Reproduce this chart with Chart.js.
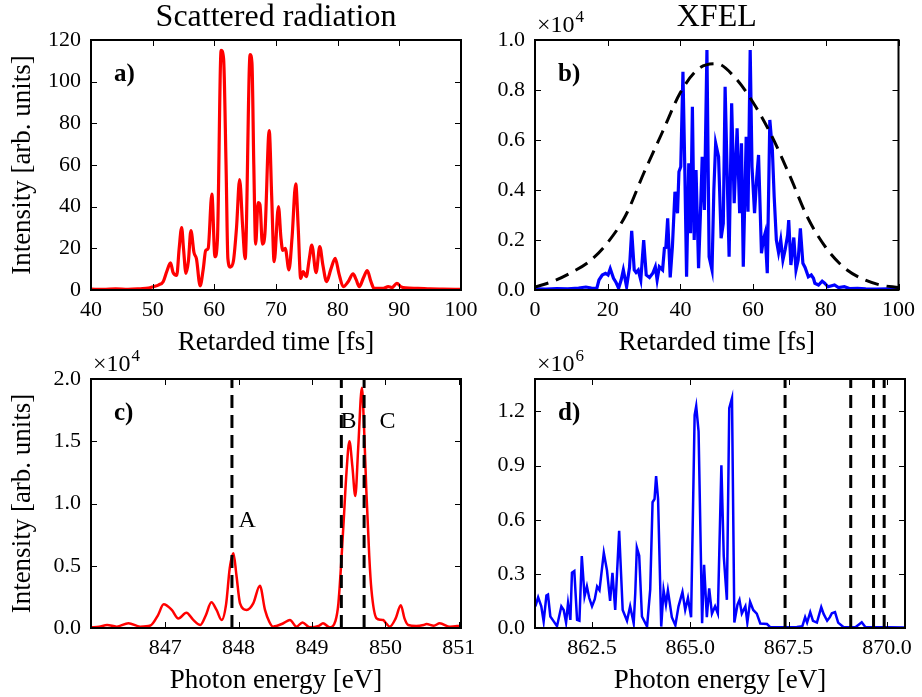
<!DOCTYPE html>
<html>
<head>
<meta charset="utf-8">
<script src="https://cdn.jsdelivr.net/npm/chart.js@4.4.1/dist/chart.umd.min.js"></script>
<style>
  html, body { margin: 0; padding: 0; background: #fff; }
  #wrap { position: relative; width: 922px; height: 697px; overflow: hidden; }
  #wrap canvas { position: absolute; left: 0; top: 0; }
</style>
</head>
<body>
<div id="wrap">
  <canvas id="panelA" width="922" height="697"></canvas>
  <canvas id="panelB" width="922" height="697"></canvas>
  <canvas id="panelC" width="922" height="697"></canvas>
  <canvas id="panelD" width="922" height="697"></canvas>
</div>
<script>
// ---- a) scattered radiation vs retarded time ----
const timeA = [40, 42, 44, 46, 48, 49.3, 50.1, 51, 51.7, 52.3, 52.9, 53.3, 53.9, 54.3, 54.7, 55.0, 55.4, 55.8, 56.2, 56.7,
  57.1, 57.7, 58.2, 58.6, 59.0, 59.6, 60.1, 60.5, 61.1, 61.5, 61.9, 62.2, 62.6, 63.1, 63.6, 64.1, 64.6, 65.0, 65.8, 66.1,
  66.4, 66.7, 67.1, 67.4, 67.8, 68.2, 68.9, 69.3, 69.7, 70.4, 70.8, 71.1, 71.5, 72.1, 72.6, 73.2, 73.6, 74.0, 74.4, 74.9,
  75.4, 75.8, 76.5, 77.1, 77.6, 78.2, 78.9, 79.6, 80.2, 80.9, 81.7, 82.5, 83.0, 83.5, 84.2, 84.8, 85.4, 85.9, 87.4, 88.2,
  88.8, 89.6, 90.3, 91, 93, 95, 97, 100];
const intensityA = [0.4, 0.3, 0.5, 0.3, 0.6, 0.9, 1.6, 2.5, 4, 9, 13, 8.5, 7, 20, 30, 20, 8, 14, 28.5, 18,
  15, 2, 10, 19, 20, 46, 16, 24, 115, 111, 60, 15, 11, 14, 30, 53, 30, 15, 113, 109,
  60, 22, 42, 41, 22, 27, 76.5, 45, 13.6, 40, 25, 19, 20, 9.6, 25, 51, 30, 5.6, 8.8, 6.4,
  15, 21.6, 8.3, 20.8, 12, 4, 10, 15.2, 8, 1.6, 4, 7.7, 5, 1.6, 6, 9.3, 4, 0.8, 0.8, 1.6,
  1.2, 3.2, 1.5, 1.0, 0.8, 0.5, 0.4, 0.3];

// ---- b) XFEL pulse vs retarded time (x 1e4) ----
const timeB = [0, 3, 6, 9, 12, 14, 15.5, 17, 17.6, 18.5, 19.4, 20.1, 20.7, 21.6, 22.3, 23, 23.7, 24.3, 25.2, 26.0,
  26.6, 27.3, 27.8, 28.4, 29.1, 29.9, 30.6, 31.5, 32.4, 33.1, 33.6, 34.2, 35.1, 35.6, 36.0, 36.5, 37.2, 37.8, 38.5, 39.2,
  39.6, 40.1, 40.7, 41.2, 41.7, 42.3, 42.8, 43.3, 43.8, 44.3, 45.0, 45.5, 46.0, 46.6, 47.3, 47.9, 48.7, 49.2, 49.7, 50.5,
  51.2, 51.8, 52.3, 52.9, 53.4, 54.1, 54.8, 55.6, 56.3, 56.8, 57.3, 58.1, 58.6, 59.2, 59.7, 60.4, 61.0, 61.5, 62.3, 62.8,
  63.3, 63.9, 64.6, 65.3, 65.8, 66.4, 67.0, 67.6, 68.2, 68.8, 69.5, 69.8, 70.4, 71.2, 71.8, 72.4, 73.0, 73.7, 74.3, 75.2,
  76.0, 76.6, 77.0, 78.0, 79.0, 79.7, 80.6, 82.4, 83.5, 85.1, 86.5, 88.7, 91, 94, 97, 100];
const intensityB = [0.005, 0.004, 0.006, 0.005, 0.008, 0.012, 0.008, 0.006, 0.04, 0.06, 0.067, 0.06, 0.085, 0.047, 0.03, 0.007, 0.04, 0.08, 0.013, 0.09,
  0.237, 0.08, 0.07, 0.08, 0.04, 0.2, 0.06, 0.05, 0.067, 0.093, 0.04, 0.093, 0.08, 0.167, 0.17, 0.287, 0.05, 0.173, 0.393, 0.307,
  0.473, 0.493, 0.873, 0.493, 0.053, 0.507, 0.227, 0.733, 0.2, 0.48, 0.087, 0.3, 0.533, 0.32, 0.96, 0.133, 0.08, 0.4, 0.587, 0.533,
  0.207, 0.267, 0.813, 0.44, 0.133, 0.747, 0.347, 0.647, 0.307, 0.587, 0.093, 0.613, 0.313, 0.96, 0.493, 0.307, 0.45, 0.54, 0.147, 0.2,
  0.227, 0.067, 0.68, 0.56, 0.373, 0.2, 0.15, 0.2, 0.12, 0.16, 0.22, 0.28, 0.1, 0.21, 0.08, 0.12, 0.247, 0.107, 0.09, 0.053,
  0.06, 0.047, 0.027, 0.02, 0.035, 0.027, 0.013, 0.02, 0.01, 0.013, 0.006, 0.007, 0.005, 0.004, 0.005, 0.004];
const envelopeT = [0, 5, 10, 15, 20, 25, 30, 35, 40, 45, 50, 55, 60, 65, 70, 75, 80, 85, 90, 95, 100];
const envelopeB = [0.012, 0.035, 0.07, 0.115, 0.19, 0.3, 0.47, 0.63, 0.79, 0.885, 0.905, 0.85, 0.75, 0.62, 0.46, 0.29, 0.17, 0.09, 0.045, 0.02, 0.01];

// ---- c) scattered spectrum (x 1e4) ----
const energyC = [845.99, 846.1, 846.21, 846.34, 846.5, 846.66, 846.8, 846.9, 846.98, 847.09, 847.18, 847.29, 847.38, 847.48, 847.55, 847.63, 847.7, 847.77, 847.83, 847.88,
  847.93, 847.97, 848.02, 848.11, 848.2, 848.29, 848.36, 848.42, 848.47, 848.61, 848.7, 848.79, 848.87, 848.97, 849.1, 849.15, 849.24, 849.32, 849.36, 849.43,
  849.47, 849.51, 849.55, 849.59, 849.63, 849.68, 849.71, 849.74, 849.78, 849.81, 849.88, 849.93, 849.97, 850.02, 850.06, 850.14, 850.21, 850.26, 850.31, 850.42,
  850.52, 850.56, 850.66, 850.74, 850.88, 851.03];
const intensityC = [0.006, 0.01, 0.024, 0.011, 0.038, 0.011, 0.02, 0.1, 0.19, 0.145, 0.077, 0.123, 0.067, 0.024, 0.096, 0.206, 0.145, 0.064, 0.19, 0.48,
  0.6, 0.43, 0.198, 0.145, 0.198, 0.34, 0.145, 0.048, 0.011, 0.038, 0.064, 0.011, 0.045, 0.006, 0.019, 0.038, 0.006, 0.058, 0.198, 0.84,
  1.25, 1.5, 1.3, 1.06, 1.45, 1.93, 1.6, 1.11, 0.58, 0.306, 0.077, 0.067, 0.064, 0.03, 0.011, 0.077, 0.183, 0.077, 0.024, 0.016,
  0.024, 0.032, 0.019, 0.038, 0.01, 0.019];
const linesC = [847.91, 849.40, 849.71];

// ---- d) XFEL spectrum (x 1e6) ----
const energyD = [861.06, 861.13, 861.21, 861.27, 861.34, 861.38, 861.44, 861.5, 861.61, 861.72, 861.78, 861.84, 861.89, 861.95, 861.99, 862.05, 862.12, 862.18, 862.24, 862.31,
  862.37, 862.43, 862.5, 862.57, 862.63, 862.69, 862.8, 862.88, 862.96, 863.02, 863.09, 863.19, 863.28, 863.39, 863.47, 863.56, 863.6, 863.64, 863.7, 863.77,
  863.9, 863.98, 864.04, 864.09, 864.13, 864.18, 864.26, 864.32, 864.38, 864.43, 864.53, 864.62, 864.7, 864.8, 864.87, 864.94, 865.02, 865.11, 865.15, 865.21,
  865.3, 865.35, 865.42, 865.48, 865.55, 865.63, 865.7, 865.79, 865.85, 865.93, 865.99, 866.06, 866.12, 866.2, 866.25, 866.31, 866.4, 866.45, 866.52, 866.6,
  866.69, 866.78, 866.95, 867.03, 867.3, 867.6, 867.71, 867.85, 867.92, 867.97, 868.05, 868.12, 868.22, 868.33, 868.39, 868.48, 868.55, 868.6, 868.68, 868.76,
  868.9, 869.2, 869.36, 869.45, 869.7, 870.0, 870.46];
const intensityD = [0.12, 0.17, 0.12, 0.036, 0.18, 0.185, 0.064, 0.045, 0.01, 0.12, 0.10, 0.03, 0.138, 0.045, 0.306, 0.315, 0.045, 0.04, 0.399, 0.175,
  0.231, 0.166, 0.12, 0.16, 0.23, 0.21, 0.417, 0.32, 0.15, 0.306, 0.1, 0.539, 0.1, 0.04, 0.12, 0.026, 0.194, 0.445, 0.4, 0.064,
  0.008, 0.213, 0.697, 0.715, 0.842, 0.715, 0.008, 0.21, 0.13, 0.209, 0.06, 0.015, 0.12, 0.2, 0.1, 0.166, 0.06, 1.18, 1.23, 1.09,
  0.026, 0.35, 0.06, 0.22, 0.08, 0.12, 0.08, 0.902, 0.4, 0.156, 1.218, 1.274, 0.03, 0.13, 0.156, 0.08, 0.12, 0.03, 0.145, 0.1,
  0.08, 0.025, 0.022, 0.005, 0.004, 0.004, 0.006, 0.01, 0.06, 0.03, 0.088, 0.04, 0.03, 0.115, 0.078, 0.04, 0.06, 0.082, 0.088, 0.03,
  0.004, 0.004, 0.032, 0.006, 0.004, 0.004, 0.003];
const linesD = [867.41, 869.08, 869.66, 869.93];

// tick labels
const ticksAx = [40, 50, 60, 70, 80, 90, 100];
const ticksAy = [0, 20, 40, 60, 80, 100, 120];
const ticksBx = [0, 20, 40, 60, 80, 100];
const ticksBy = [0, 0.2, 0.4, 0.6, 0.8, 1.0];
const ticksCx = [847, 848, 849, 850, 851];
const ticksCy = [0, 0.5, 1.0, 1.5, 2.0];
const ticksDx = [862.5, 865.0, 867.5, 870.0];
const ticksDy = [0, 0.3, 0.6, 0.9, 1.2];

const SERIF = "'Liberation Serif', 'Times New Roman', serif";
const W = 922, H = 697;

const pts = (xs, ys) => xs.map((x, i) => ({ x: x, y: ys[i] }));
const vlines = (xs, top) => xs.map(x => ({
  data: [{ x: x, y: 0 }, { x: x, y: top }],
  borderColor: "#000", borderWidth: 3, borderDash: [13, 7], pointRadius: 0
}));

// frame with inward ticks on all sides + panel tag, offset text, notes
function decor(spec) {
  return {
    id: "decor",
    afterDatasetsDraw(chart) {
      const ctx = chart.ctx, a = chart.chartArea;
      const xs = chart.scales.x, ys = chart.scales.y;
      ctx.save();
      ctx.strokeStyle = "#000";
      ctx.lineWidth = 1;
      ctx.beginPath();
      xs.ticks.forEach(t => {
        const px = Math.round(xs.getPixelForValue(t.value)) + 0.5;
        ctx.moveTo(px, a.bottom); ctx.lineTo(px, a.bottom - 6);
        ctx.moveTo(px, a.top); ctx.lineTo(px, a.top + 6);
      });
      ys.ticks.forEach(t => {
        const py = Math.round(ys.getPixelForValue(t.value)) + 0.5;
        ctx.moveTo(a.left, py); ctx.lineTo(a.left + 6, py);
        ctx.moveTo(a.right, py); ctx.lineTo(a.right - 6, py);
      });
      ctx.stroke();
      ctx.lineWidth = 2;
      ctx.strokeRect(a.left, a.top, a.right - a.left, a.bottom - a.top);

      ctx.fillStyle = "#000";
      ctx.textAlign = "left";
      ctx.textBaseline = "middle";
      ctx.font = "bold 25px " + SERIF;
      ctx.fillText(spec.tag, a.left + 23, a.top + 35);

      if (spec.exp) {
        ctx.textBaseline = "alphabetic";
        ctx.font = "24px " + SERIF;
        ctx.fillText("\u00d710", a.left + 2, a.top - 8);
        const w = ctx.measureText("\u00d710").width;
        ctx.font = "17px " + SERIF;
        ctx.fillText(spec.exp, a.left + 3 + w, a.top - 18);
      }
      ctx.textBaseline = "middle";
      ctx.font = "24px " + SERIF;
      (spec.notes || []).forEach(n => {
        ctx.fillText(n.text, xs.getPixelForValue(n.x), ys.getPixelForValue(n.y));
      });
      ctx.restore();
    }
  };
}

function axis(range, ticks, fmt, fitSize, pad, title, titlePad, horizontal) {
  const ax = {
    type: "linear", bounds: "data", min: range[0], max: range[1],
    afterBuildTicks: s => { s.ticks = ticks.map(v => ({ value: v })); },
    grid: { display: false, drawTicks: false },
    border: { display: false },
    ticks: { color: "#000", autoSkip: false, maxRotation: 0, padding: pad,
      font: { family: SERIF, size: 22 }, callback: v => fmt(v) },
    title: { display: !!title, text: title || "", color: "#000",
      font: { family: SERIF, size: 27 }, padding: titlePad }
  };
  if (horizontal) ax.afterFit = s => { s.height = fitSize; };
  else ax.afterFit = s => { s.width = fitSize; };
  return ax;
}

function panel(id, p) {
  // p.box = [left, top, right, bottom] of the plot area
  const [L, T, R, B] = p.box;
  const wy = p.ytitle ? L : 60;
  const xBottom = Math.min(H, B + 69);
  return new Chart(document.getElementById(id), {
    type: "line",
    data: { datasets: p.datasets },
    options: {
      responsive: false, animation: false, events: [],
      layout: { padding: { left: L - wy, right: W - R, top: p.title ? 0 : T, bottom: H - xBottom } },
      plugins: {
        legend: { display: false },
        tooltip: { enabled: false },
        title: { display: !!p.title, text: p.title || "", fullSize: false, color: "#000",
          font: { family: SERIF, size: 32, weight: "normal", lineHeight: 1.1 },
          padding: { top: 0, bottom: T - 35.2 } }
      },
      scales: {
        x: axis(p.xr, p.xt, p.xf, xBottom - B, 7, p.xtitle, { top: 0, bottom: 0 }, true),
        y: axis(p.yr, p.yt, p.yf, wy, 10, p.ytitle, { top: 7, bottom: 0 }, false)
      }
    },
    plugins: [decor(p.decor)]
  });
}

const f0 = v => String(v);
const f1 = v => v.toFixed(1);

panel("panelA", {
  box: [91, 40, 461, 290], title: "Scattered radiation",
  xr: [40, 100], xt: ticksAx, xf: f0, xtitle: "Retarded time [fs]",
  yr: [0, 120], yt: ticksAy, yf: f0, ytitle: "Intensity [arb. units]",
  datasets: [{ data: pts(timeA, intensityA), borderColor: "#ff0000", borderWidth: 3.2, pointRadius: 0, cubicInterpolationMode: "monotone" }],
  decor: { tag: "a)" }
});

panel("panelB", {
  box: [535, 40, 905, 290], title: "XFEL",
  xr: [0, 100], xt: ticksBx, xf: f0, xtitle: "Retarded time [fs]",
  yr: [0, 1.0], yt: ticksBy, yf: f1,
  datasets: [
    { data: pts(envelopeT, envelopeB), borderColor: "#000", borderWidth: 3, borderDash: [14, 8], pointRadius: 0, cubicInterpolationMode: "monotone" },
    { data: pts(timeB, intensityB), borderColor: "#0000ff", borderWidth: 3.2, pointRadius: 0, tension: 0 }
  ],
  decor: { tag: "b)", exp: "4" }
});

panel("panelC", {
  box: [91, 379, 461, 628],
  xr: [845.99, 851.03], xt: ticksCx, xf: f0, xtitle: "Photon energy [eV]",
  yr: [0, 2.0], yt: ticksCy, yf: f1, ytitle: "Intensity [arb. units]",
  datasets: vlines(linesC, 2.0).concat([
    { data: pts(energyC, intensityC), borderColor: "#ff0000", borderWidth: 2.5, pointRadius: 0, cubicInterpolationMode: "monotone" }
  ]),
  decor: { tag: "c)", exp: "4", notes: [
    { text: "A", x: 848.0, y: 0.86 }, { text: "B", x: 849.39, y: 1.66 }, { text: "C", x: 849.92, y: 1.66 }
  ] }
});

panel("panelD", {
  box: [535, 379, 905, 628],
  xr: [861.05, 870.46], xt: ticksDx, xf: f1, xtitle: "Photon energy [eV]",
  yr: [0, 1.38], yt: ticksDy, yf: f1,
  datasets: vlines(linesD, 1.38).concat([
    { data: pts(energyD, intensityD), borderColor: "#0000ff", borderWidth: 2.5, pointRadius: 0, tension: 0 }
  ]),
  decor: { tag: "d)", exp: "6" }
});
</script>
</body>
</html>
